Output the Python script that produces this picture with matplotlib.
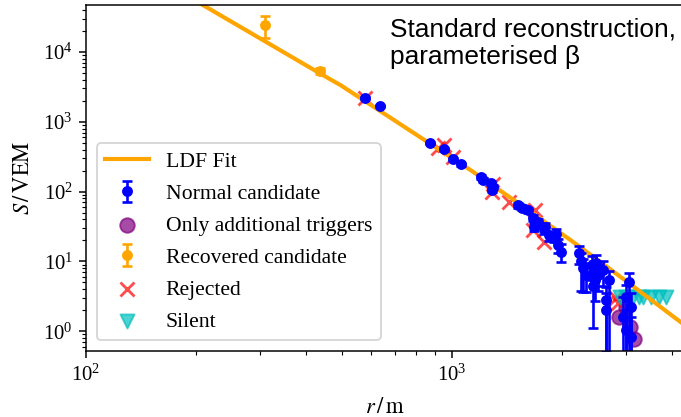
import matplotlib
matplotlib.use("Agg")
import matplotlib.pyplot as plt
import numpy as np

plt.rcParams['font.family'] = 'serif'
plt.rcParams['font.serif'] = ['Liberation Serif', 'DejaVu Serif']
plt.rcParams['mathtext.fontset'] = 'stix'
plt.rcParams['xtick.labelsize'] = 11
plt.rcParams['ytick.labelsize'] = 11

# LDF fit curve
ldf_r = [190, 209, 300, 437, 497, 700, 1000, 1127, 1500, 2118, 2558, 3000, 3500, 4300]
ldf_s = [62200, 46800, 15500, 4900, 3340, 1035, 305, 203, 72, 20.1, 9.75, 5.24, 2.86, 1.27]

# normal candidates: r, S, lower / upper error
norm_r = [578, 635, 871, 951, 1011, 1064, 1200, 1222, 1279, 1290, 1300,
          1518, 1560, 1615, 1666, 1680, 1720, 1786, 1800, 1845, 1900, 1928, 1960, 1991,
          2229, 2260, 2290, 2330, 2433, 2480, 2512, 2420, 2450, 2470,
          2594, 2690, 2650, 2640,
          2937, 3056, 3000, 2990, 3090, 3100]
norm_s = [2180, 1675, 494, 405, 291, 247, 161, 148, 132, 106, 118,
          64, 59, 54, 42, 31, 37, 29, 31, 23.7, 22, 25, 17, 13.5,
          13.1, 10, 8, 6.5, 4.5, 9.5, 6.3, 9.0, 7.5, 5.5,
          7.5, 5.4, 2.8, 2.0,
          1.6, 5.0, 3.1, 1.03, 0.82, 2.2]
norm_lo = [60, 50, 20, 18, 15, 12, 10, 10, 9, 8, 8,
           5, 5, 5, 4, 4, 4, 4, 4, 4, 3, 4, 4, 3.8,
           4, 6.2, 4.4, 2.9, 3.4, 3, 2.5, 3.5, 3.2, 2.8,
           3, 5.0, 2.3, 1.9,
           1.5, 4.8, 2.9, 0.9, 0.8, 1.8]
norm_hi = [60, 50, 20, 18, 15, 12, 10, 10, 9, 8, 8,
           5, 5, 5, 4, 4, 4, 4, 4, 3, 3, 4, 4, 4.5,
           3.5, 3, 3, 3, 2.5, 3, 2.5, 3, 2.5, 2.5,
           2.5, 2.0, 1.5, 1.5,
           1.5, 1.8, 1.5, 1.0, 0.8, 1.3]

# recovered candidates
rec_r = [309, 437]
rec_s = [24200, 5300]
rec_lo = [8400, 500]
rec_hi = [8400, 500]

# stations with only additional triggers
add_r = [2870, 3000, 3080, 3150]
add_s = [1.6, 2.2, 1.15, 0.78]

# rejected stations
rej_r = [578, 915, 951, 1011, 1290, 1300, 1432, 1687, 1666, 1786, 2483, 2812, 2850]
rej_s = [2180, 419, 462, 311, 98, 130, 70, 54, 28, 18.8, 7.5, 3.0, 2.5]

# silent stations
sil_r = [2880, 3000, 3130, 3250, 3340, 3500, 3700, 3860]
sil_s = [3.1, 3.1, 3.1, 3.1, 3.1, 3.1, 3.1, 3.1]

fig = plt.figure(figsize=(681 / 135, 417 / 135), dpi=135)
ax = fig.add_axes([0.1263, 0.158, 0.877, 0.830])

ax.plot(ldf_r, ldf_s, color='orange', lw=2.2, label='LDF Fit')
ax.errorbar(norm_r, norm_s, yerr=[norm_lo, norm_hi], fmt='o', color='b',
            ms=4.8, elinewidth=1.4, capsize=2.5, capthick=1.4, label='Normal candidate')
ax.scatter(add_r, add_s, s=60, color='purple', alpha=0.7, label='Only additional triggers')
ax.errorbar(rec_r, rec_s, yerr=[rec_lo, rec_hi], fmt='o', color='orange',
            ms=4.8, elinewidth=1.4, capsize=2.5, capthick=1.4, label='Recovered candidate')
ax.scatter(rej_r, rej_s, s=56, marker='x', color='r', alpha=0.7, label='Rejected')
ax.scatter(sil_r, sil_s, s=56, marker='v', color='c', alpha=0.7, label='Silent')

ax.set_xscale('log')
ax.set_yscale('log')
ax.set_xlim(100, 4300)
ax.set_ylim(0.52, 4.7e4)
ax.set_xlabel(r'$r\,/\,\mathrm{m}$', fontsize=12, labelpad=6)
ax.set_ylabel(r'$S\,/\,\mathrm{VEM}$', fontsize=12, labelpad=5)

handles, labels = ax.get_legend_handles_labels()
order = sorted(range(len(labels)), key=lambda i: labels[i])
ax.legend([handles[i] for i in order], [labels[i] for i in order], loc='lower left',
          fontsize=11.5, labelspacing=0.55)

fig.text(0.573, 0.958, 'Standard reconstruction,\nparameterised β',
         fontsize=14, family='Liberation Sans', va='top', ha='left')

plt.savefig('out.png', dpi=135)
